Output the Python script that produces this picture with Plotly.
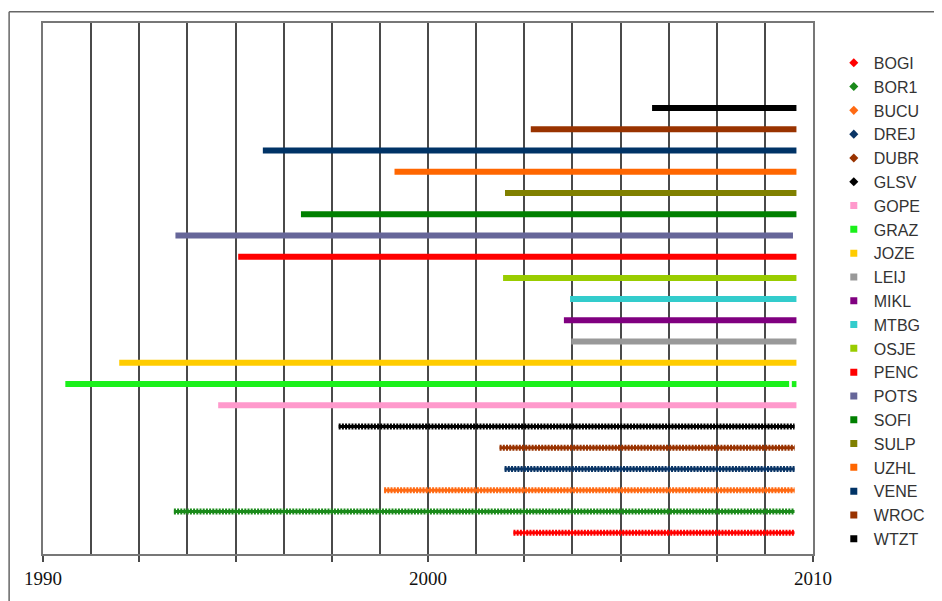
import plotly.graph_objects as go

# Stations (bottom row first), observation spans in decimal years
stations = ["BOGI", "BOR1", "BUCU", "DREJ", "DUBR", "GLSV", "GOPE", "GRAZ", "JOZE", "LEIJ", "MIKL",
            "MTBG", "OSJE", "PENC", "POTS", "SOFI", "SULP", "UZHL", "VENE", "WROC", "WTZT"]
start_year = [2002.22, 1993.40, 1998.86, 2001.99, 2001.86, 1997.68, 1994.55, 1990.58, 1991.98, 2003.72, 2003.53,
              2003.69, 2001.95, 1995.07, 1993.44, 1996.70, 2002.00, 1999.13, 1995.71, 2002.67, 2005.82]
end_year = [2009.52, 2009.52, 2009.52, 2009.52, 2009.52, 2009.52, 2009.57, 2009.57, 2009.57, 2009.57, 2009.57,
            2009.57, 2009.57, 2009.57, 2009.48, 2009.57, 2009.57, 2009.57, 2009.57, 2009.57, 2009.57]
graz_gap = [2009.38, 2009.45]  # short data gap near the end of GRAZ
colors = ["#FF0000", "#1A8A1A", "#FF6A13", "#0A3566", "#993300", "#000000", "#FF99CC", "#1AF01A", "#FFCC00",
          "#999999", "#800080", "#33CCCC", "#99CC00", "#FF0000", "#666699", "#008000", "#808000", "#FF6600",
          "#003366", "#993300", "#000000"]
symbols = ["diamond"] * 6 + ["square"] * 15
x_tickvals = [1990, 1992.5, 1995, 1997.5, 2000, 2002.5, 2005, 2007.5, 2010]
x_ticktext = ["1990", "", "", "", "2000", "", "", "", "2010"]

fig = go.Figure()

for name, s, e, c, sym in zip(stations, start_year, end_year, colors, symbols):
    if name == "GRAZ":
        xs = [s, graz_gap[0], None, graz_gap[1], e]
        ys = [name, name, None, name, name]
    else:
        xs = [s, e]
        ys = [name, name]
    if sym == "diamond":
        fig.add_trace(go.Scatter(x=xs, y=ys, mode="lines", line=dict(color=c, width=3),
                                 showlegend=False, hoverinfo="skip"))
        fig.add_trace(go.Scatter(x=xs, y=ys, mode="lines", line=dict(color=c, width=6, dash="2px,1.2px"),
                                 showlegend=False, name=name))
    else:
        fig.add_trace(go.Scatter(x=xs, y=ys, mode="lines", line=dict(color=c, width=6),
                                 showlegend=False, name=name))

# legend-only entries (markers as in the reference legend)
for name, c, sym in zip(stations, colors, symbols):
    fig.add_trace(go.Scatter(x=[None], y=[None], mode="markers", name=name,
                             marker=dict(color=c, symbol=sym, size=7),
                             legendgroup=name, showlegend=True))

grid_col = "#4a4a4a"
fig.update_layout(
    width=934, height=593, autosize=False,
    margin=dict(l=35, r=127, t=15, b=45),
    paper_bgcolor="white", plot_bgcolor="white",
    xaxis=dict(range=[1990, 2010], tickmode="array", tickvals=x_tickvals, ticktext=x_ticktext,
               ticks="outside", ticklen=6, tickcolor=grid_col, tickwidth=1.5,
               showgrid=True, gridcolor=grid_col, gridwidth=1.5,
               minor=dict(tick0=1990, dtick=1.25, showgrid=True, gridcolor=grid_col, gridwidth=1.5),
               showline=True, linecolor="#777777", linewidth=1.5, mirror=True, zeroline=False,
               tickfont=dict(family="Liberation Serif", size=19, color="#111111")),
    yaxis=dict(type="category", categoryorder="array", categoryarray=stations, range=[-1, 24],
               showticklabels=False, showgrid=False, zeroline=False, ticks="",
               showline=True, linecolor="#777777", linewidth=1.5, mirror=True),
    legend=dict(x=1.027, xanchor="left", y=0.957, yanchor="top", traceorder="grouped",
                font=dict(family="Liberation Sans", size=16, color="#333333"),
                bgcolor="rgba(0,0,0,0)", tracegroupgap=0, itemclick=False),
    shapes=[
        dict(type="line", xref="paper", yref="paper", x0=-0.044, x1=-0.044, y0=1.0212, y1=-0.2,
             line=dict(color="#666666", width=1.5)),
        dict(type="line", xref="paper", yref="paper", x0=-0.044, x1=1.3, y0=1.0212, y1=1.0212,
             line=dict(color="#666666", width=1.5)),
    ],
    showlegend=True,
)

fig.write_html("out.html")
